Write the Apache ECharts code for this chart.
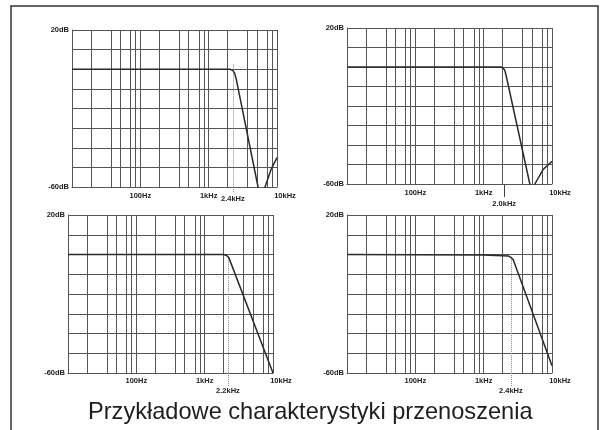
<!DOCTYPE html>
<html>
<head>
<meta charset="utf-8">
<script src="https://cdn.jsdelivr.net/npm/echarts@6/dist/echarts.min.js"></script>
<style>
html, body { margin: 0; padding: 0; background: #fff; }
#main { width: 605px; height: 430px; }
</style>
</head>
<body>
<div id="main"></div>
<script>
// dane (czestotliwosc w Hz, wzmocnienie w dB)
var freqA = [10, 2050, 2250, 2400, 2550, 5280, 5900, 6680, 8200, 10000];
var gainA = [0, 0, -0.6, -2, -5.5, -60, -80, -60, -51, -45];

var freqB = [10, 1800, 1950, 2050, 2150, 4740, 5150, 5610, 7400, 10000];
var gainB = [0, 0, -0.7, -2, -5, -60, -80, -60, -52.6, -48.4];

var freqC = [10, 1900, 2100, 2265, 10000];
var gainC = [0, 0, -0.5, -1.7, -60];

var freqD = [10, 1000, 2300, 2500, 2700, 10000];
var gainD = [0, -0.3, -0.7, -1.5, -2.5, -56.3];

// linie siatki pionowej
var gridFreqs = [10, 19, 37, 51, 72, 85, 100, 190, 370, 510, 720, 850, 1000,
                 1900, 3700, 5100, 7200, 8500, 10000];
var freqTicks = [100, 1000, 10000];
var freqLabels = ['100Hz', '1kHz', '10kHz'];

// czestotliwosci graniczne
var cutFreq = [2260, 2000, 2190, 2500];
var cutText = ['2.4kHz', '2.0kHz', '2.2kHz', '2.4kHz'];

var myChart = echarts.init(document.getElementById('main'));

var lineCol = '#555';
var labelFont = {
    color: '#222',
    fontSize: 7.5,
    fontWeight: 'bold',
    fontFamily: 'Liberation Sans'
};

var panels = [
    {f: freqA, g: gainA, rect: [72, 30, 205, 157], cutTop: 2.5, tickLen: 6, cutMargin: 8, tickType: 'dotted', labMargin: 5},
    {f: freqB, g: gainB, rect: [347, 28, 205, 156], cutTop: null, tickLen: 13, cutMargin: 16, tickType: 'solid', labMargin: 5},
    {f: freqC, g: gainC, rect: [68, 215, 205, 158], cutTop: -1.7, tickLen: 14, cutMargin: 14, tickType: 'dotted', labMargin: 3.5},
    {f: freqD, g: gainD, rect: [347, 215, 205, 158], cutTop: -1.2, tickLen: 14, cutMargin: 14, tickType: 'dotted', labMargin: 3.5}
];

var grids = [], xAxes = [], yAxes = [], series = [];

panels.forEach(function (p, i) {
    grids.push({left: p.rect[0], top: p.rect[1], width: p.rect[2], height: p.rect[3]});

    // os glowna z siatka
    xAxes.push({
        type: 'log',
        logBase: 10,
        min: 10,
        max: 10000,
        gridIndex: i,
        position: 'bottom',
        axisLine: {show: true, onZero: false, lineStyle: {color: lineCol, width: 1}},
        axisTick: {show: false, customValues: gridFreqs},
        splitLine: {show: true, lineStyle: {color: lineCol, width: 1}},
        axisLabel: {
            customValues: freqTicks,
            margin: p.labMargin,
            formatter: function (v) {
                var k = freqTicks.indexOf(Math.round(v));
                if (k < 0) return '';
                if (k == 2) return '{r|' + freqLabels[k] + '}';
                return freqLabels[k];
            },
            rich: {r: {padding: [0, 0, 0, 16], color: '#222', fontSize: 7.5, fontWeight: 'bold', fontFamily: 'Liberation Sans'}},
            color: labelFont.color,
            fontSize: labelFont.fontSize,
            fontWeight: labelFont.fontWeight,
            fontFamily: labelFont.fontFamily
        }
    });

    // druga os - tylko kreska i opis czestotliwosci granicznej
    xAxes.push({
        type: 'log',
        logBase: 10,
        min: 10,
        max: 10000,
        gridIndex: i,
        position: 'bottom',
        axisLine: {show: false, onZero: false},
        axisTick: {
            show: true,
            customValues: [cutFreq[i]],
            length: p.tickLen,
            lineStyle: {color: p.tickType == 'solid' ? '#444' : '#888', width: 1, type: p.tickType}
        },
        splitLine: {show: false},
        axisLabel: {
            customValues: [cutFreq[i]],
            margin: p.cutMargin,
            formatter: function () { return cutText[i]; },
            color: labelFont.color,
            fontSize: labelFont.fontSize,
            fontWeight: labelFont.fontWeight,
            fontFamily: labelFont.fontFamily
        }
    });

    yAxes.push({
        type: 'value',
        min: -60,
        max: 20,
        interval: 10,
        gridIndex: i,
        axisLine: {show: true, onZero: false, lineStyle: {color: lineCol, width: 1}},
        axisTick: {show: false},
        splitLine: {show: true, lineStyle: {color: lineCol, width: 1}},
        axisLabel: {
            margin: 3,
            formatter: function (v) {
                if (v == 20) return '20dB';
                if (v == -60) return '-60dB';
                return '';
            },
            color: labelFont.color,
            fontSize: labelFont.fontSize,
            fontWeight: labelFont.fontWeight,
            fontFamily: labelFont.fontFamily
        }
    });

    var pts = p.f.map(function (f, k) { return [f, p.g[k]]; });
    var s = {
        type: 'line',
        xAxisIndex: i * 2,
        yAxisIndex: i,
        data: pts,
        symbol: 'none',
        clip: true,
        lineStyle: {color: '#2a2a2a', width: 1.5},
        z: 5
    };
    if (p.cutTop !== null) {
        s.markLine = {
            silent: true,
            symbol: 'none',
            label: {show: false},
            lineStyle: {type: 'dotted', color: '#888', width: 1},
            data: [[{coord: [cutFreq[i], p.cutTop]}, {coord: [cutFreq[i], -60]}]]
        };
    }
    series.push(s);
});

option = {
    animation: false,
    backgroundColor: '#fff',
    title: {
        text: 'Przykładowe charakterystyki przenoszenia',
        left: 83,
        top: 395,
        textStyle: {
            color: '#1e1e1e',
            fontSize: 23.6,
            fontWeight: 'normal',
            fontFamily: 'Liberation Sans'
        }
    },
    graphic: [{
        type: 'rect',
        shape: {x: 11, y: 6, width: 587, height: 440},
        style: {fill: 'none', stroke: '#333', lineWidth: 1.5},
        silent: true
    }],
    grid: grids,
    xAxis: xAxes,
    yAxis: yAxes,
    series: series
};
myChart.setOption(option);
</script>
</body>
</html>
